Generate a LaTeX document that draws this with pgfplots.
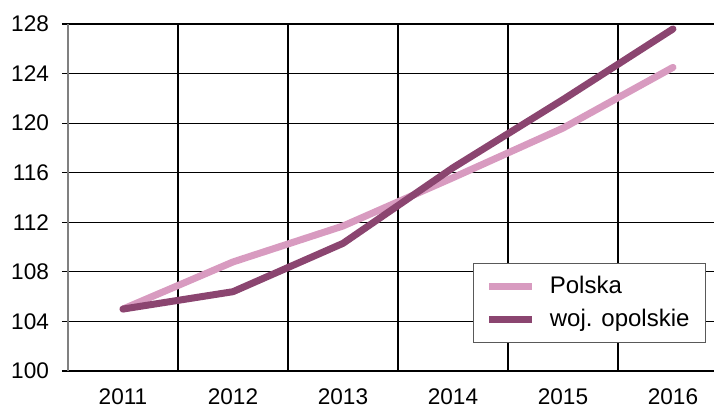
\documentclass[border=0pt]{standalone}
\usepackage{pgfplots}
\pgfplotsset{compat=1.18}
\usepackage{fontspec}
\setmainfont{Liberation Sans}
\definecolor{polska}{HTML}{D89BC0}
\definecolor{opol}{HTML}{8B4570}
\begin{document}
\begin{tikzpicture}
\useasboundingbox (-34pt,-19pt) rectangle (323pt,185.5pt);
\begin{axis}[
  scale only axis,
  width=323pt, height=173.5pt,
  at={(0,0)}, anchor=south west,
  xmin=-0.5, xmax=5.373,
  ymin=100, ymax=128,
  ytick={100,104,...,128},
  xtick={0,1,2,3,4,5},
  xticklabels={2011,2012,2013,2014,2015,2016},
  extra x ticks={0.5,1.5,2.5,3.5,4.5},
  extra x tick labels={},
  extra x tick style={grid=major, major tick length=0pt},
  ymajorgrids,
  grid style={black, line width=0.6pt},
  axis x line*=bottom,
  axis y line*=left,
  x axis line style={black, line width=0.8pt, -},
  y axis line style={gray, line width=0.8pt, -},
  x tick style={draw=none},
  y tick style={black, line width=0.6pt},
  tick align=outside,
  major tick length=3pt,
  font=\fontsize{11.3}{13}\selectfont,
  ticklabel style={font=\fontsize{11.3}{13}\selectfont},
  /pgf/number format/assume math mode=true,
  yticklabel style={xshift=-3pt},
  xticklabel style={yshift=-2.5pt},
  legend style={at={(0.9876,0.311)}, anchor=north east, draw=gray!70!black, line width=0.5pt,
    font=\fontsize{12}{14}\selectfont, row sep=2pt, inner xsep=6pt, inner ysep=4.5pt},
  legend cell align=left,
  legend image code/.code={\draw[#1, line cap=butt] (0pt,0pt) -- (21.5pt,0pt); \path (0pt,0pt) (26.5pt,0pt);},
]
\addplot[polska, line width=3.5pt, line cap=round, line join=round] coordinates {
(0,105.0) (1,108.8) (2,111.7) (3,115.6) (4,119.6) (5,124.5)};
\addlegendentry{Polska}
\addplot[opol, line width=3.5pt, line cap=round, line join=round] coordinates {
(0,105.0) (1,106.4) (2,110.3) (3,116.4) (4,121.9) (5,127.6)};
\addlegendentry{woj. opolskie}
\end{axis}
\end{tikzpicture}
\end{document}
